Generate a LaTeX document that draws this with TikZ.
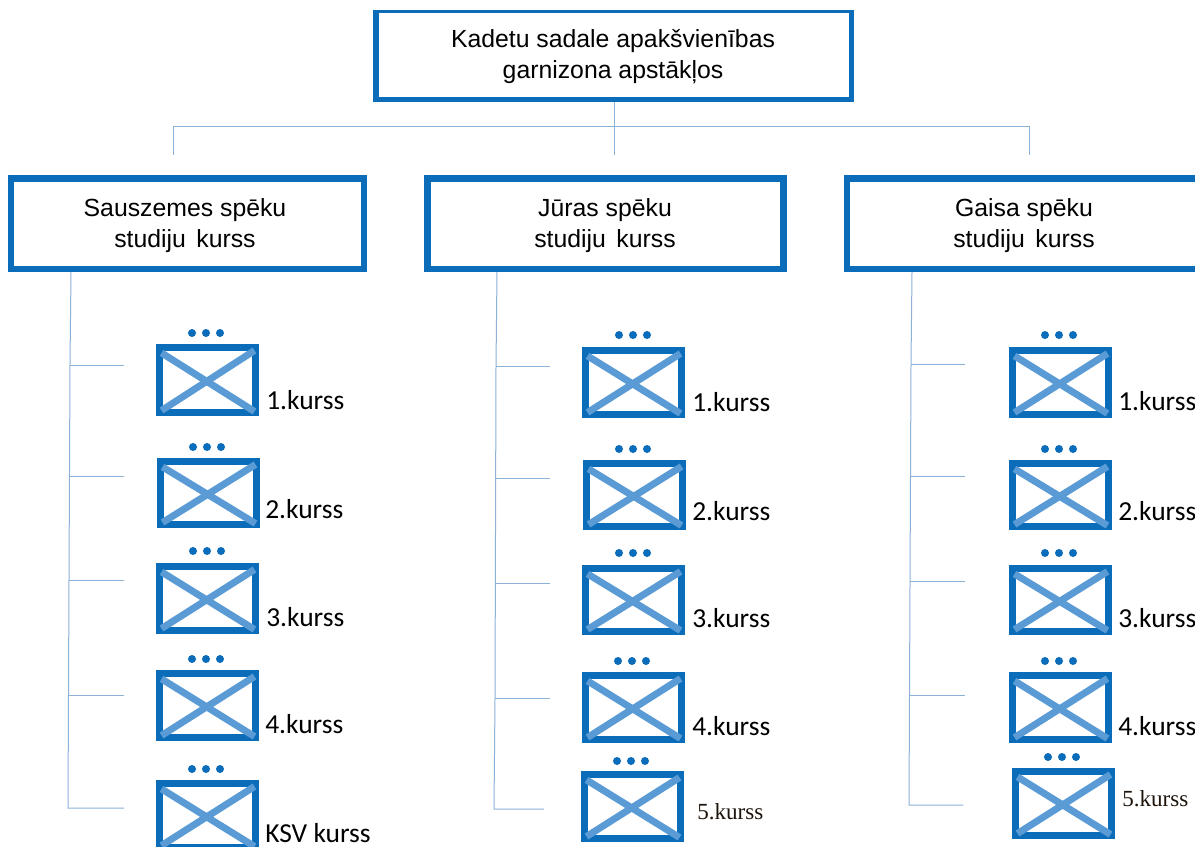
\documentclass[tikz,border=0pt]{standalone}
\usepackage{fontspec}
\setmainfont{Liberation Sans}
\newfontfamily\labfont{Carlito}
\newfontfamily\serfont{Liberation Serif}
\definecolor{boxblue}{HTML}{0B6DB9}
\definecolor{crossblue}{HTML}{5B9BD5}
\definecolor{linkblue}{HTML}{8DB2D8}
\newcommand{\twogap}{\hspace{0.42em}}
\tikzset{
  outerbox/.style={fill=boxblue,draw=none,inner sep=0pt,outer sep=0pt},
  innerbox/.style={fill=white,draw=none,inner sep=0pt,outer sep=0pt},
  headtext/.style={align=center,inner sep=0pt,font=\fontsize{18.6pt}{23.2pt}\selectfont,text=black},
  iconbox/.style={draw=boxblue,fill=white,line width=5.2pt,inner sep=0pt,outer sep=0pt},
  crossline/.style={draw=crossblue,line width=5.2pt},
  icondot/.style={fill=boxblue},
  link/.style={draw=linkblue,line width=0.75pt},
  carlab/.style={anchor=base west,inner sep=0pt,font=\labfont\fontsize{20.6pt}{22pt}\selectfont,text=black},
  serlab/.style={anchor=base west,inner sep=0pt,font=\serfont\fontsize{17.3pt}{19pt}\selectfont,text=black!85!brown},
}
% name, outer x0 y0 x1 y1, inner x0 y0 x1 y1
\newcommand{\bigbox}[9]{%
  \pgfmathsetmacro{\ocx}{(#2+#4)/2}\pgfmathsetmacro{\ocy}{(#3+#5)/2}%
  \pgfmathsetmacro{\ow}{(#4-#2)*0.75}\pgfmathsetmacro{\oh}{(#5-#3)*0.75}%
  \node[outerbox,minimum width=\ow pt,minimum height=\oh pt] (#1) at (\ocx,\ocy) {};
  \bigboxinner{#1}{#6}{#7}{#8}{#9}}
\newcommand{\bigboxinner}[5]{%
  \pgfmathsetmacro{\icx}{(#2+#4)/2}\pgfmathsetmacro{\icy}{(#3+#5)/2}%
  \pgfmathsetmacro{\iw}{(#4-#2)*0.75}\pgfmathsetmacro{\ih}{(#5-#3)*0.75}%
  \node[innerbox,minimum width=\iw pt,minimum height=\ih pt] (#1in) at (\icx,\icy) {};}
% name, outer x0 y0 x1 y1, dots centre x, dots y
\newcommand{\iconmark}[7]{%
  \pgfmathsetmacro{\ocx}{(#2+#4)/2}\pgfmathsetmacro{\ocy}{(#3+#5)/2}%
  \pgfmathsetmacro{\ow}{(#4-#2-7)*0.75}\pgfmathsetmacro{\oh}{(#5-#3-7)*0.75}%
  \node[iconbox,minimum width=\ow pt,minimum height=\oh pt] (#1) at (\ocx,\ocy) {};
  \draw[crossline] ([shift={(2,5.4)}]#1.north west) -- ([shift={(-1,-1)}]#1.south east);
  \draw[crossline] ([shift={(2,-2)}]#1.south west) -- ([shift={(-1,3)}]#1.north east);
  \foreach \dd in {-14,0,14} {\fill[icondot] (#6+\dd,#7) circle[radius=4];}
}
\begin{document}
\begin{tikzpicture}[x=0.75pt,y=-0.75pt]
\useasboundingbox (0,0) rectangle (1195,846);
\fill[white] (0,0) rectangle (1195,846);

\coordinate (h1) at (173,126); \coordinate (h2) at (614,126); \coordinate (h3) at (1029,126);
\coordinate (d1) at (173,155); \coordinate (d2) at (614,155); \coordinate (d3) at (1029,155);

\bigbox{top}{373}{10}{854}{102}{379}{13}{849}{97}
\bigbox{land}{8}{175}{367}{272}{14}{182}{361}{266}
\bigbox{sea}{424}{175}{787}{272}{431}{182}{780}{266}
\bigbox{air}{844}{175}{1195}{272}{850}{182}{1195}{266}

\node[headtext] (toptext) at (613,57) {Kadetu sadale apakšvienības\\garnizona apstākļos};
\node[headtext] (landtext) at (185,226) {Sauszemes spēku\\studiju\twogap kurss};
\node[headtext] (seatext) at (605,226) {Jūras spēku\\studiju\twogap kurss};
\node[headtext] (airtext) at (1024,226) {Gaisa spēku\\studiju\twogap kurss};

\draw[link] (top.south -| h2) -- (d2);
\draw[link] (d1) -- (h1) -- (h3) -- (d3);

% column 1
\coordinate (a1) at (124,365); \coordinate (a2) at (124,476); \coordinate (a3) at (124,580); \coordinate (a4) at (124,695); \coordinate (a5) at (124,808);
\draw[link] (land.south -| 71,0) -- (70,365) -- (69,580) -- (68,808) -- (a5);
\draw[link] (70,365) -- (a1);
\draw[link] (70,476) -- (a2);
\draw[link] (69,580) -- (a3);
\draw[link] (68,695) -- (a4);

\iconmark{a1i}{156}{344}{259}{416}{206}{333}
\iconmark{a2i}{157}{458}{260}{528}{207}{447}
\iconmark{a3i}{156}{563}{259}{634}{207}{551}
\iconmark{a4i}{156}{670}{259}{741}{206}{659}
\iconmark{a5i}{156}{780}{259}{851}{206}{769}
\node[carlab] (a1t) at (266,409) {1.kurss};
\node[carlab] (a2t) at (265,518) {2.kurss};
\node[carlab] (a3t) at (266,626) {3.kurss};
\node[carlab] (a4t) at (265,733) {4.kurss};
\node[carlab] (a5t) at (265,842) {KSV kurss};

% column 2
\coordinate (b1) at (550,366); \coordinate (b2) at (550,478); \coordinate (b3) at (550,583); \coordinate (b4) at (550,698); \coordinate (b5) at (544,809);
\draw[link] (sea.south -| 497,0) -- (496,366) -- (495,698) -- (494,809) -- (b5);
\draw[link] (496,366) -- (b1);
\draw[link] (495,478) -- (b2);
\draw[link] (495,583) -- (b3);
\draw[link] (495,698) -- (b4);

\iconmark{b1i}{582}{347}{685}{418}{633}{335}
\iconmark{b2i}{583}{460}{686}{530}{633}{449}
\iconmark{b3i}{582}{565}{685}{635}{633}{553}
\iconmark{b4i}{582}{672}{685}{743}{632}{661}
\iconmark{b5i}{581}{771}{684}{842}{631}{761}
\node[carlab] (b1t) at (692,411) {1.kurss};
\node[carlab] (b2t) at (692,520) {2.kurss};
\node[carlab] (b3t) at (692,627) {3.kurss};
\node[carlab] (b4t) at (692,735) {4.kurss};
\node[serlab] (b5t) at (697,819) {5.kurss};

% column 3
\coordinate (c1) at (965,364); \coordinate (c2) at (965,476); \coordinate (c3) at (965,581); \coordinate (c4) at (965,695); \coordinate (c5) at (963,805);
\draw[link] (air.south -| 912,0) -- (911,364) -- (909,805) -- (c5);
\draw[link] (911,364) -- (c1);
\draw[link] (910,476) -- (c2);
\draw[link] (910,581) -- (c3);
\draw[link] (909,695) -- (c4);

\iconmark{c1i}{1009}{347}{1112}{418}{1059}{335}
\iconmark{c2i}{1009}{460}{1112}{530}{1059}{449}
\iconmark{c3i}{1009}{565}{1112}{635}{1059}{553}
\iconmark{c4i}{1009}{672}{1112}{743}{1059}{661}
\iconmark{c5i}{1012}{768}{1115}{839}{1062}{757}
\node[carlab] (c1t) at (1118,410) {1.kurss};
\node[carlab] (c2t) at (1118,520) {2.kurss};
\node[carlab] (c3t) at (1118,627) {3.kurss};
\node[carlab] (c4t) at (1118,735) {4.kurss};
\node[serlab] (c5t) at (1122,806) {5.kurss};
\end{tikzpicture}
\end{document}
